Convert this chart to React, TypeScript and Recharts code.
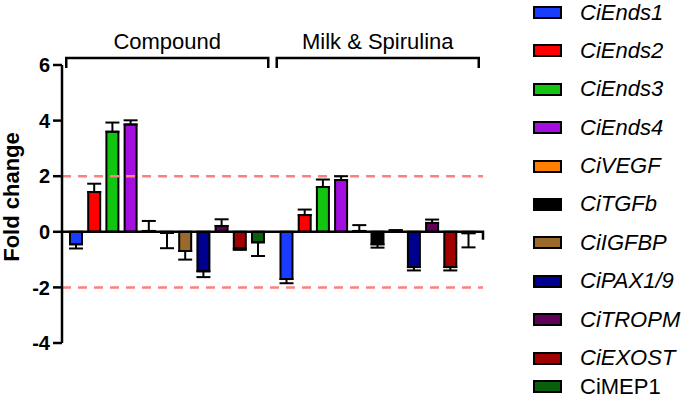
import React from "react";
import { BarChart, Bar, XAxis, YAxis, ReferenceLine, ErrorBar } from "recharts";

const groups = ["Compound", "Milk & Spirulina"];
const genes = [
  "CiEnds1",
  "CiEnds2",
  "CiEnds3",
  "CiEnds4",
  "CiVEGF",
  "CiTGFb",
  "CiIGFBP",
  "CiPAX1/9",
  "CiTROPM",
  "CiEXOST",
  "CiMEP1",
];
const colors = [
  "#1a3cff",
  "#ff0000",
  "#11c511",
  "#a40fe0",
  "#ff8000",
  "#000000",
  "#9b6a2b",
  "#000090",
  "#600058",
  "#a00000",
  "#0a5f0a",
];
// mean fold change and (one-sided) SD
const compoundValues = [-0.45, 1.43, 3.6, 3.86, 0.03, -0.04, -0.69, -1.42, 0.21, -0.6, -0.38];
const compoundErrors = [0.15, 0.3, 0.33, 0.15, 0.36, 0.55, 0.31, 0.21, 0.24, 0.05, 0.49];
const milkValues = [-1.7, 0.6, 1.61, 1.86, 0.03, -0.45, 0.04, -1.27, 0.32, -1.27, -0.05];
const milkErrors = [0.15, 0.2, 0.27, 0.14, 0.21, 0.12, 0.02, 0.12, 0.12, 0.12, 0.51];
const yTicks = [-4, -2, 0, 2, 4, 6];

const FONT = '"Liberation Sans", Arial, sans-serif';

const oneSided = (v: number, e: number) => (v < 0 ? [e, 0] : [0, e]);

const data = groups.map((group, gi) => {
  const vals = gi === 0 ? compoundValues : milkValues;
  const errs = gi === 0 ? compoundErrors : milkErrors;
  const row: any = { group };
  genes.forEach((_, i) => {
    row["s" + i] = vals[i];
    row["e" + i] = oneSided(vals[i], errs[i]);
  });
  return row;
});

const GroupTick = ({ x, y, payload }: any) => {
  const half = 101;
  return (
    <g>
      <path
        d={`M${x - half},${y + 3}V${y - 7}H${x + half}V${y + 3}`}
        stroke="#000"
        strokeWidth={2.5}
        fill="none"
      />
      <text x={x} y={y - 16} textAnchor="middle" fontSize={22} fontFamily={FONT} fill="#000">
        {payload.value}
      </text>
    </g>
  );
};

const FoldLabel = ({ viewBox }: any) => {
  const bx = viewBox.x + 19;
  const cy = viewBox.y + viewBox.height / 2 - 7;
  return (
    <text
      x={bx}
      y={cy}
      transform={`rotate(-90, ${bx}, ${cy})`}
      textAnchor="middle"
      fontSize={22}
      fontWeight="bold"
      fontFamily={FONT}
      fill="#000"
    >
      Fold change
    </text>
  );
};

const ZeroAxis = (props: any) => {
  const { x1, y1, x2 } = props;
  return <path d={`M${x1},${y1}H${x2}V${y1 + 8}`} stroke="#000" strokeWidth={2.5} fill="none" />;
};

export default function App() {
  return (
    <div style={{ position: "absolute", left: 0, top: 0, width: 685, height: 400, background: "#fff" }}>
      <BarChart
        width={685}
        height={400}
        data={data}
        margin={{ top: 0, right: 202, bottom: 57, left: 0 }}
        barSize={12}
        barGap={6.2}
      >
        <XAxis
          dataKey="group"
          orientation="top"
          height={65}
          axisLine={false}
          tickLine={false}
          tickSize={0}
          tickMargin={0}
          interval={0}
          tick={<GroupTick />}
        />
        <YAxis
          domain={[-4, 6]}
          ticks={yTicks}
          interval={0}
          width={62}
          axisLine={{ stroke: "#000", strokeWidth: 2.5 }}
          tickLine={{ stroke: "#000", strokeWidth: 2.5 }}
          tickSize={9}
          tickMargin={3}
          tick={{ fill: "#000", fontSize: 20, fontWeight: "bold", fontFamily: FONT }}
          label={{ content: <FoldLabel /> }}
        />
        <ReferenceLine y={2} stroke="#ff8080" strokeWidth={2.5} strokeDasharray="9 7" />
        <ReferenceLine y={-2} stroke="#ff8080" strokeWidth={2.5} strokeDasharray="9 7" />
        {genes.map((g, i) => (
          <Bar
            key={g}
            dataKey={"s" + i}
            name={g}
            fill={colors[i]}
            stroke="#000"
            strokeWidth={2}
            isAnimationActive={false}
          >
            <ErrorBar
              dataKey={"e" + i}
              direction="y"
              width={7}
              stroke="#000"
              strokeWidth={2}
              isAnimationActive={false}
            />
          </Bar>
        ))}
        <ReferenceLine y={0} shape={<ZeroAxis />} />
      </BarChart>
      <div style={{ position: "absolute", left: 533, top: -6.7, fontFamily: FONT, fontSize: 22, color: "#000" }}>
        {genes.map((g, i) => (
          <div
            key={g}
            style={{ display: "flex", alignItems: "center", height: i === genes.length - 1 ? 19.4 : 38.4 }}
          >
            <span
              style={{
                display: "inline-block",
                width: 25,
                height: 9,
                background: colors[i],
                border: "2px solid #000",
                marginRight: 18,
              }}
            />
            <span
              style={{
                fontStyle: i === genes.length - 1 ? "normal" : "italic",
                whiteSpace: "nowrap",
                lineHeight: "18px",
              }}
            >
              {g}
            </span>
          </div>
        ))}
      </div>
    </div>
  );
}
